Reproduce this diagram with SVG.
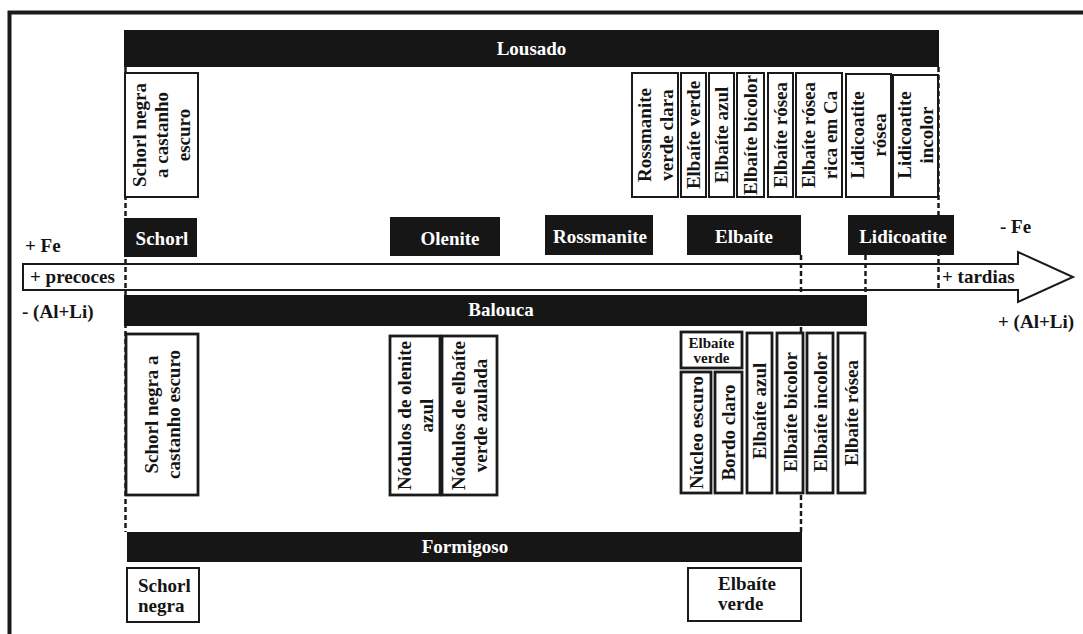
<svg xmlns="http://www.w3.org/2000/svg" width="1083" height="634" viewBox="0 0 1083 634">
  <style>
    text { font-family: "Liberation Serif", "Times New Roman", serif; font-weight: bold; font-size: 19px; fill: #141414; }
    .bar { fill: #161616; }
    .bar-label { fill: #ffffff; text-anchor: middle; }
    .box { fill: #ffffff; stroke: #1a1a1a; stroke-width: 2; }
    .box-thick { fill: #ffffff; stroke: #1a1a1a; stroke-width: 2.8; }
    .mid { text-anchor: middle; }
    .small { font-size: 15px; }
    .dash { stroke: #1a1a1a; stroke-width: 2.5; stroke-dasharray: 5 3; fill: none; }
    .frame { stroke: #1a1a1a; stroke-width: 4; fill: none; }
  </style>

  <rect x="0" y="0" width="1083" height="634" fill="#ffffff"/>

  <!-- outer frame (top and left edges) -->
  <path class="frame" d="M9.5,634 V12.5 H1083"/>

  <!-- time axis arrow and range markers -->
  <g id="connectors">
    <polygon id="axis-arrow" points="23,264 1018,264 1018,252 1073,277 1018,302 1018,290 23,290" fill="#ffffff" stroke="#1a1a1a" stroke-width="2"/>
    <line class="dash" x1="125.5" y1="67" x2="125.5" y2="532"/>
    <line class="dash" x1="938.5" y1="67" x2="938.5" y2="290"/>
    <line class="dash" x1="801" y1="255" x2="801" y2="532"/>
    <line class="dash" x1="865.5" y1="255" x2="865.5" y2="295"/>
  </g>

  <!-- axis labels -->
  <g id="axis-labels">
    <text x="25" y="252">+ Fe</text>
    <text x="30" y="283">+ precoces</text>
    <text x="22" y="318">- (Al+Li)</text>
    <text x="1000" y="233">- Fe</text>
    <text x="942" y="283">+ tardias</text>
    <text x="998" y="328">+ (Al+Li)</text>
  </g>

  <!-- Lousado -->
  <g id="lousado">
    <rect class="bar" x="124" y="30" width="815" height="37"/>
    <text class="bar-label" x="531.5" y="55">Lousado</text>
  </g>
  <g id="lousado-schorl">
    <rect class="box" x="125" y="73" width="73" height="124"/>
    <g transform="translate(161.5,135) rotate(-90)" class="mid">
      <text class="mid" x="0" y="-15.5">Schorl negra</text>
      <text class="mid" x="0" y="6.5">a castanho</text>
      <text class="mid" x="0" y="28.5">escuro</text>
    </g>
  </g>
  <g id="lousado-rossmanite">
    <rect class="box" x="632" y="73" width="46" height="124"/>
    <g transform="translate(655,135) rotate(-90)">
      <text class="mid" x="0" y="-4.5">Rossmanite</text>
      <text class="mid" x="0" y="17.5">verde clara</text>
    </g>
  </g>
  <g id="lousado-elbaite-verde">
    <rect class="box" x="681" y="73" width="25" height="124"/>
    <text class="mid" transform="translate(693.5,135) rotate(-90)" x="0" y="6.5">Elbaíte verde</text>
  </g>
  <g id="lousado-elbaite-azul">
    <rect class="box" x="709" y="73" width="25" height="124"/>
    <text class="mid" transform="translate(721.5,135) rotate(-90)" x="0" y="6.5">Elbaíte azul</text>
  </g>
  <g id="lousado-elbaite-bicolor">
    <rect class="box" x="737" y="73" width="27" height="124"/>
    <text class="mid" transform="translate(750.5,135) rotate(-90)" x="0" y="6.5">Elbaíte bicolor</text>
  </g>
  <g id="lousado-elbaite-rosea">
    <rect class="box" x="768" y="73" width="25" height="124"/>
    <text class="mid" transform="translate(780.5,135) rotate(-90)" x="0" y="6.5">Elbaíte rósea</text>
  </g>
  <g id="lousado-elbaite-rosea-ca">
    <rect class="box" x="796" y="73" width="46" height="124"/>
    <g transform="translate(819,135) rotate(-90)">
      <text class="mid" x="0" y="-4.5">Elbaíte rósea</text>
      <text class="mid" x="0" y="17.5">rica em Ca</text>
    </g>
  </g>
  <g id="lousado-lidicoatite-rosea">
    <rect class="box" x="846" y="74" width="45" height="123"/>
    <g transform="translate(868.5,135) rotate(-90)">
      <text class="mid" x="0" y="-4.5">Lidicoatite</text>
      <text class="mid" x="0" y="17.5">rósea</text>
    </g>
  </g>
  <g id="lousado-lidicoatite-incolor">
    <rect class="box" x="893" y="75" width="45" height="122"/>
    <g transform="translate(915.5,135) rotate(-90)">
      <text class="mid" x="0" y="-4.5">Lidicoatite</text>
      <text class="mid" x="0" y="17.5">incolor</text>
    </g>
  </g>

  <!-- species along the axis -->
  <g id="sp-schorl">
    <rect class="bar" x="124" y="218" width="73" height="39"/>
    <text class="bar-label" x="162" y="245">Schorl</text>
  </g>
  <g id="sp-olenite">
    <rect class="bar" x="390" y="217" width="110" height="39"/>
    <text class="bar-label" x="450" y="245">Olenite</text>
  </g>
  <g id="sp-rossmanite">
    <rect class="bar" x="545" y="215" width="108" height="40"/>
    <text class="bar-label" x="600" y="243">Rossmanite</text>
  </g>
  <g id="sp-elbaite">
    <rect class="bar" x="687" y="215" width="114" height="40"/>
    <text class="bar-label" x="744" y="243">Elbaíte</text>
  </g>
  <g id="sp-lidicoatite">
    <rect class="bar" x="848" y="215" width="106" height="40"/>
    <text class="bar-label" x="903" y="243">Lidicoatite</text>
  </g>

  <!-- Balouca -->
  <g id="balouca">
    <rect class="bar" x="124" y="295" width="743" height="31"/>
    <text class="bar-label" x="501" y="316">Balouca</text>
  </g>
  <g id="balouca-schorl">
    <rect class="box-thick" x="126" y="334" width="72" height="161"/>
    <g transform="translate(162,414.5) rotate(-90)">
      <text class="mid" x="0" y="-4.5">Schorl negra a</text>
      <text class="mid" x="0" y="17.5">castanho escuro</text>
    </g>
  </g>
  <g id="balouca-nodulos-olenite">
    <rect class="box-thick" x="390" y="336" width="50" height="159"/>
    <g transform="translate(415,415.5) rotate(-90)">
      <text class="mid" x="0" y="-4.5">Nódulos de olenite</text>
      <text class="mid" x="0" y="17.5">azul</text>
    </g>
  </g>
  <g id="balouca-nodulos-elbaite">
    <rect class="box-thick" x="442" y="336" width="55" height="159"/>
    <g transform="translate(469.5,415.5) rotate(-90)">
      <text class="mid" x="0" y="-4.5">Nódulos de elbaíte</text>
      <text class="mid" x="0" y="17.5">verde azulada</text>
    </g>
  </g>
  <g id="balouca-elbaite-verde">
    <rect class="box-thick" x="681" y="332" width="61" height="36"/>
    <text class="mid small" x="711.5" y="348">Elbaíte</text>
    <text class="mid small" x="711.5" y="363">verde</text>
  </g>
  <g id="balouca-nucleo">
    <rect class="box-thick" x="681" y="372" width="30" height="121"/>
    <text class="mid" transform="translate(696,432.5) rotate(-90)" x="0" y="6.5">Núcleo escuro</text>
  </g>
  <g id="balouca-bordo">
    <rect class="box-thick" x="715" y="372" width="27" height="121"/>
    <text class="mid" transform="translate(728.5,432.5) rotate(-90)" x="0" y="6.5">Bordo claro</text>
  </g>
  <g id="balouca-elbaite-azul">
    <rect class="box-thick" x="747" y="333" width="25" height="160"/>
    <text class="mid" transform="translate(759.5,411) rotate(-90)" x="0" y="6.5">Elbaíte azul</text>
  </g>
  <g id="balouca-elbaite-bicolor">
    <rect class="box-thick" x="777" y="333" width="26" height="160"/>
    <text class="mid" transform="translate(790,412) rotate(-90)" x="0" y="6.5">Elbaíte bicolor</text>
  </g>
  <g id="balouca-elbaite-incolor">
    <rect class="box-thick" x="807" y="333" width="26" height="160"/>
    <text class="mid" transform="translate(820,412) rotate(-90)" x="0" y="6.5">Elbaíte incolor</text>
  </g>
  <g id="balouca-elbaite-rosea">
    <rect class="box-thick" x="838" y="333" width="27" height="160"/>
    <text class="mid" transform="translate(851.5,413) rotate(-90)" x="0" y="6.5">Elbaíte rósea</text>
  </g>

  <!-- Formigoso -->
  <g id="formigoso">
    <rect class="bar" x="127" y="532" width="675" height="30"/>
    <text class="bar-label" x="465" y="553">Formigoso</text>
  </g>
  <g id="formigoso-schorl">
    <rect class="box" x="127" y="568" width="72" height="54"/>
    <text x="138" y="592">Schorl</text>
    <text x="138" y="612">negra</text>
  </g>
  <g id="formigoso-elbaite">
    <rect class="box" x="688" y="568" width="113" height="53"/>
    <text x="718" y="590">Elbaíte</text>
    <text x="718" y="610">verde</text>
  </g>
</svg>
